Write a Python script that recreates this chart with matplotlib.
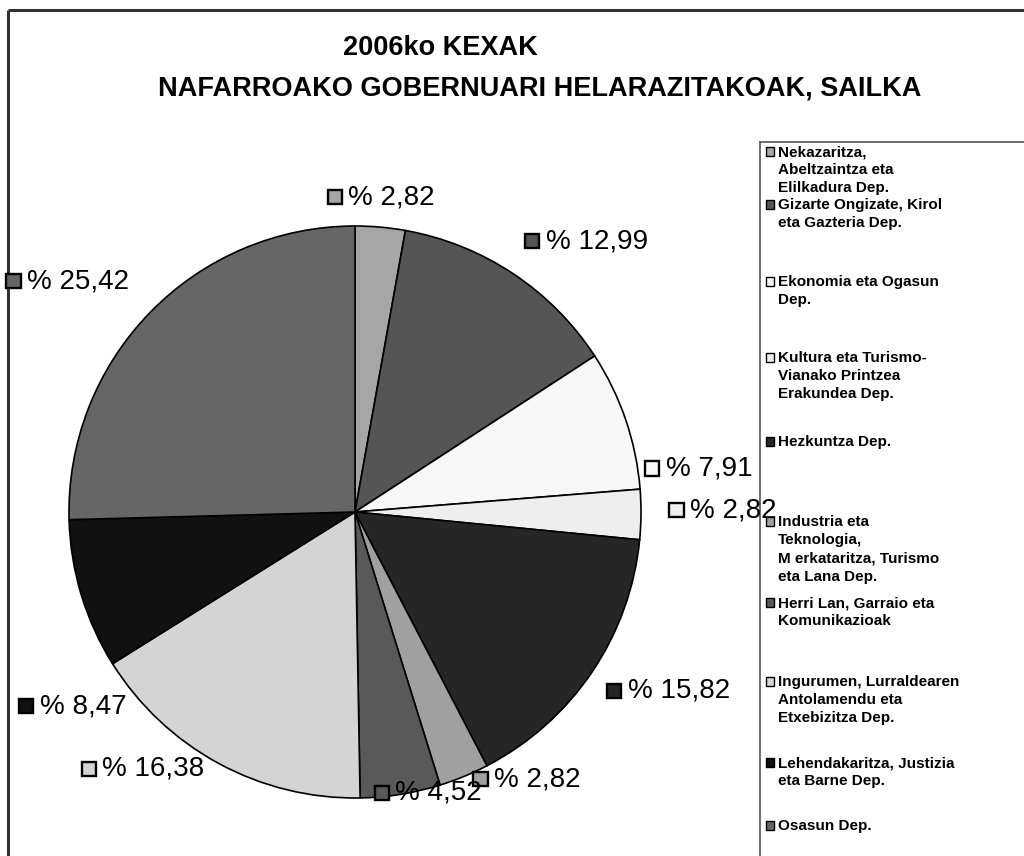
import numpy as np
import matplotlib
matplotlib.use("Agg")
import matplotlib.pyplot as plt
from matplotlib.patches import Rectangle
from matplotlib.offsetbox import DrawingArea, TextArea, HPacker, AnnotationBbox

# ---------------- data ----------------
departments = [
    "Nekazaritza,\nAbeltzaintza eta\nElilkadura Dep.",
    "Gizarte Ongizate, Kirol\neta Gazteria Dep.",
    "Ekonomia eta Ogasun\nDep.",
    "Kultura eta Turismo-\nVianako Printzea\nErakundea Dep.",
    "Hezkuntza Dep.",
    "Industria eta\nTeknologia,\nM erkataritza, Turismo\neta Lana Dep.",
    "Herri Lan, Garraio eta\nKomunikazioak",
    "Ingurumen, Lurraldearen\nAntolamendu eta\nEtxebizitza Dep.",
    "Lehendakaritza, Justizia\neta Barne Dep.",
    "Osasun Dep.",
]
percentages = [2.82, 12.99, 7.91, 2.82, 15.82, 2.82, 4.52, 16.38, 8.47, 25.42]
label_texts = ["% 2,82", "% 12,99", "% 7,91", "% 2,82", "% 15,82",
               "% 2,82", "% 4,52", "% 16,38", "% 8,47", "% 25,42"]
title_lines = ["2006ko KEXAK", "NAFARROAKO GOBERNUARI HELARAZITAKOAK, SAILKA"]

# ---------------- style ----------------
colors = ["#A6A6A6", "#555555", "#F7F7F7", "#EEEEEE", "#262626",
          "#A0A0A0", "#595959", "#D4D4D4", "#111111", "#666666"]
# label placement: angular offset (deg) from wedge mid-angle, radius factor
label_dang = [0.4, -6.9, -11.6, 0.8, 4.3, 10.3, 5.4, -11.1, 17.7, 5.5]
label_rad = [1.105, 1.245, 1.21, 1.285, 1.26, 1.11, 1.015, 1.165, 1.2, 1.29]
legend_y = [146, 199, 276, 352, 436, 516, 597, 676, 757, 820]

W, H = 1024, 856
cx, cy, R = 355, 512, 286

plt.rcParams["font.family"] = ["Liberation Sans", "DejaVu Sans"]

fig = plt.figure(figsize=(W / 100, H / 100), dpi=100)
ax = fig.add_axes([0, 0, 1, 1])

wedges, _ = ax.pie(percentages, colors=colors, startangle=-90, counterclock=True,
                   center=(cx, cy), radius=R,
                   wedgeprops=dict(edgecolor="black", linewidth=1.2))
ax.set_xlim(0, W)
ax.set_ylim(H, 0)
ax.set_aspect("equal")
ax.axis("off")

# borders
ax.plot([8, W], [10, 10], color="#333333", lw=2.2, solid_capstyle="butt")
ax.plot([8, 8], [10, H], color="#333333", lw=2.2, solid_capstyle="butt")
lx, ly = 760, 142
ax.plot([lx, W], [ly, ly], color="#555555", lw=1.2)
ax.plot([lx, lx], [ly, H], color="#555555", lw=1.2)

# title
ax.text(440, 48, title_lines[0], ha="center", va="center", fontsize=19.5, fontweight="bold")
ax.text(540, 88, title_lines[1], ha="center", va="center", fontsize=19.5, fontweight="bold")

# data labels
total = sum(percentages)
cum = 0.0
for i, p in enumerate(percentages):
    mid = 90 - (cum + p / 2) / total * 360
    cum += p
    a = np.deg2rad(mid + label_dang[i])
    x = cx + label_rad[i] * R * np.cos(a)
    y = cy - label_rad[i] * R * np.sin(a)
    da = DrawingArea(11.5, 11.5, 0, 0)
    da.add_artist(Rectangle((0.6, 0.6), 10.3, 10.3, facecolor=colors[i],
                            edgecolor="black", linewidth=1.7))
    ta = TextArea(label_texts[i], textprops=dict(fontsize=20, color="black"))
    box = HPacker(children=[da, ta], align="center", pad=0, sep=4)
    ab = AnnotationBbox(box, (x, y), xycoords="data", frameon=False,
                        box_alignment=(0.5, 0.5), pad=0)
    ax.add_artist(ab)

# legend
for i, name in enumerate(departments):
    y0 = legend_y[i]
    ax.add_patch(Rectangle((766, y0 + 1), 8, 9, facecolor=colors[i],
                           edgecolor="black", linewidth=1.0))
    ax.text(778, y0 - 1, name, ha="left", va="top", fontsize=11,
            fontweight="bold", linespacing=1.38)

fig.savefig("out.png", dpi=100)
